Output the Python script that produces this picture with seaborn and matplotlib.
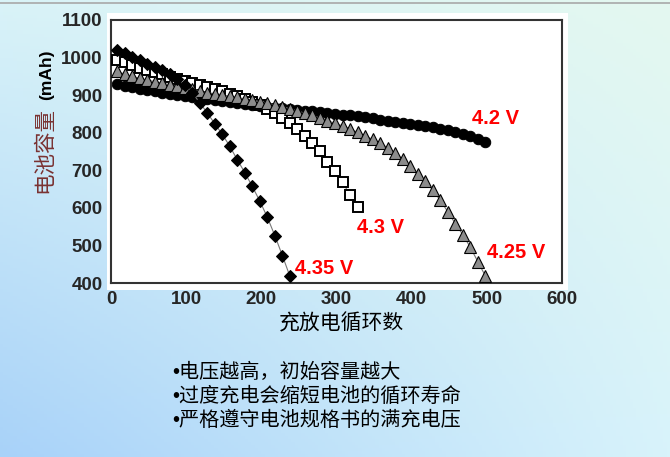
import numpy as np
import pandas as pd
import matplotlib
matplotlib.use('Agg')
import matplotlib.pyplot as plt
import seaborn as sns
from matplotlib.patches import Rectangle
from matplotlib.lines import Line2D

# cycle numbers where the points were measured (every 10 cycles)
cycles = list(range(8, 508, 10))

cap_42 = [929, 925, 921, 917, 913, 910, 906, 903, 900, 898,
          895, 893, 890, 887, 884, 881, 878, 876, 874, 871,
          869, 867, 865, 863, 861, 859, 857, 855, 853, 851,
          848, 846, 844, 841, 838, 835, 832, 829, 826, 823,
          820, 817, 814, 811, 806, 801, 796, 790, 784, 776]
cap_425 = [963, 956, 950, 945, 940, 936, 932, 928, 924, 920,
           916, 911, 907, 904, 901, 897, 894, 890, 887, 883,
           879, 874, 869, 864, 858, 852, 846, 839, 832, 825,
           818, 810, 801, 792, 782, 772, 760, 746, 730, 711,
           691, 671, 648, 620, 590, 558, 529, 495, 457, 419]
cap_43 = [994, 987, 980, 973, 967, 961, 955, 949, 943, 937,
          932, 926, 921, 916, 910, 904, 898, 891, 883, 874,
          864, 852, 840, 827, 809, 791, 772, 752, 722, 699,
          668, 635, 601]
cap_435 = [1019, 1011, 1002, 993, 984, 975, 966, 956, 944, 927,
           907, 880, 853, 824, 796, 764, 728, 694, 657, 618,
           575, 526, 473, 418]

labels = ['4.2 V', '4.25 V', '4.3 V', '4.35 V']
label_pos = [(512, 839), (539, 482), (359, 549), (283, 439)]

xticks = [0, 100, 200, 300, 400, 500, 600]
yticks = [400, 500, 600, 700, 800, 900, 1000, 1100]
xlabel = '充放电循环数'
ylabel_cn = '电池容量'
ylabel_unit = '(mAh)'
notes = ['•电压越高，初始容量越大', '•过度充电会缩短电池的循环寿命', '•严格遵守电池规格书的满充电压']

sns.set_style('white')
cjk = ['Liberation Sans', 'Noto Sans CJK SC', 'DejaVu Sans']
plt.rcParams['font.family'] = cjk

W, H = 670, 457
fig = plt.figure(figsize=(W / 100, H / 100), dpi=100)

# gradient background
bg = fig.add_axes([0, 0, 1, 1])
tl = np.array([0xd9, 0xf3, 0xf8]) / 255
tr = np.array([0xe4, 0xf8, 0xf0]) / 255
bl = np.array([0xa8, 0xd2, 0xf9]) / 255
br = np.array([0xd8, 0xf3, 0xfb]) / 255
u = np.linspace(0, 1, 200)[None, :, None]
v = np.linspace(0, 1, 150)[:, None, None]
grad = (1 - v) * ((1 - u) * tl + u * tr) + v * ((1 - u) * bl + u * br)
bg.imshow(grad, extent=[0, 1, 0, 1], aspect='auto', origin='upper')
bg.add_patch(Rectangle((107 / W, 1 - 290 / H), (568 - 107) / W, (290 - 13) / H,
                       facecolor='white', edgecolor='none'))
bg.add_line(Line2D([0, 1], [1 - 2.5 / H] * 2, color='#a8a8a8', lw=1.2))
bg.set_xlim(0, 1)
bg.set_ylim(0, 1)
bg.axis('off')

ax = fig.add_axes([111 / W, 1 - 283 / H, (562 - 111) / W, (283 - 20) / H])
ax.set_facecolor('white')

line_kw = dict(color='#777777', linewidth=0.8, sort=False, estimator=None, ax=ax)
sns.lineplot(x=cycles[:len(cap_42)], y=cap_42, marker='o', markersize=7.5,
             markerfacecolor='black', markeredgecolor='black', zorder=2, **line_kw)
sns.lineplot(x=cycles[:len(cap_43)], y=cap_43, marker='s', markersize=7,
             markerfacecolor='white', markeredgecolor='black', markeredgewidth=1.4,
             zorder=3, **line_kw)
sns.lineplot(x=cycles[:len(cap_425)], y=cap_425, marker='^', markersize=8,
             markerfacecolor='#8c8c8c', markeredgecolor='black', markeredgewidth=0.8,
             zorder=4, **line_kw)
sns.lineplot(x=cycles[:len(cap_435)], y=cap_435, marker='D', markersize=6.5,
             markerfacecolor='black', markeredgecolor='black', zorder=5, **line_kw)

for lab, (lx, ly) in zip(labels, label_pos):
    ax.text(lx, ly, lab, color='#ff0000', fontsize=14.5, fontweight='bold',
            family=['Liberation Sans'], ha='center', va='center', clip_on=False)

ax.set_xlim(0, 600)
ax.set_ylim(400, 1100)
ax.set_xticks(xticks)
ax.set_yticks(yticks)
ax.set_xticklabels([str(t) for t in xticks], fontsize=13.5, fontweight='bold',
                   family=['Liberation Sans'])
ax.set_yticklabels([str(t) for t in yticks], fontsize=13.5, fontweight='bold',
                   family=['Liberation Sans'])
ax.tick_params(axis='x', direction='in', length=4, color='#a0a0a0', pad=6)
ax.tick_params(axis='y', direction='in', length=4, color='#a0a0a0', pad=6)
for s in ax.spines.values():
    s.set_color('#333333')
    s.set_linewidth(1.5)

fig.text(341 / W, 1 - 323 / H, xlabel, fontsize=15, ha='center', va='center',
         family=['Noto Sans CJK SC'], color='black')
fig.text(44 / W, 1 - 150 / H, ylabel_cn, fontsize=15.5, rotation=90, ha='center',
         va='center', family=['Noto Sans CJK SC'], color='#7a3232')
fig.text(47 / W, 1 - 75 / H, ylabel_unit, fontsize=12.5, rotation=90, ha='center',
         va='center', fontweight='bold', family=['Liberation Sans'], color='black')

for i, note in enumerate(notes):
    fig.text(172 / W, 1 - (372 + 24 * i) / H, note, fontsize=14.5, ha='left',
             va='center', family=cjk, color='black')

fig.savefig('out.png', dpi=100)
